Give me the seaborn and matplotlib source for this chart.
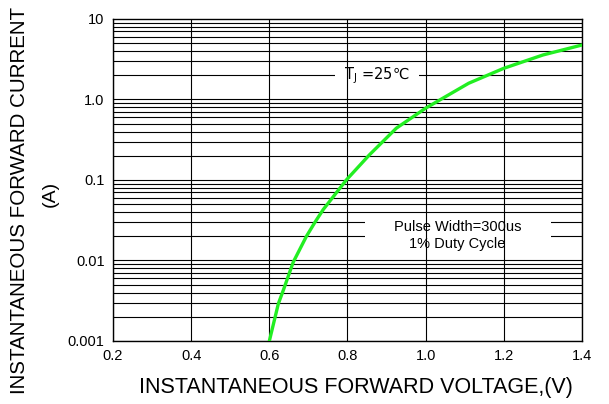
import numpy as np
import seaborn as sns
import matplotlib
matplotlib.use("Agg")
import matplotlib.pyplot as plt
import matplotlib.patches as patches

# forward voltage (V) vs forward current (A)
voltage = [0.6, 0.623, 0.636, 0.661, 0.695, 0.717, 0.738, 0.797, 0.856, 0.925,
           1.0, 1.11, 1.2, 1.3, 1.4]
current = [0.001, 0.0029, 0.0043, 0.0095, 0.020, 0.030, 0.043, 0.1, 0.205, 0.44,
           0.78, 1.59, 2.44, 3.57, 4.75]

x_ticks = [0.2, 0.4, 0.6, 0.8, 1.0, 1.2, 1.4]
x_labels = ["0.2", "0.4", "0.6", "0.8", "1.0", "1.2", "1.4"]
y_ticks = [0.001, 0.01, 0.1, 1, 10]
y_labels = ["0.001", "0.01", "0.1", "1.0", "10"]

sns.set_style("white")
plt.rcParams['font.family'] = ['Liberation Sans', 'Noto Sans CJK SC', 'DejaVu Sans']
plt.rcParams['text.color'] = 'black'
plt.rcParams['xtick.color'] = 'black'
plt.rcParams['ytick.color'] = 'black'

fig = plt.figure(figsize=(6.09, 4.04), dpi=100)
ax = fig.add_axes([0.1856, 0.156, 0.770, 0.797])

ax.set_yscale('log')
ax.set_xlim(0.2, 1.4)
ax.set_ylim(0.001, 10)

# horizontal log grid (under the white label boxes)
for dec in [0.001, 0.01, 0.1, 1]:
    for m in range(1, 10):
        ax.axhline(dec * m, color='black', lw=0.8, zorder=1)
# vertical grid (drawn over the boxes, like the reference)
for xv in x_ticks:
    ax.axvline(xv, color='black', lw=0.8, zorder=4)

sns.lineplot(x=voltage, y=current, ax=ax, color='#22ee22', lw=2.4, zorder=5)

# white boxes that break the horizontal grid behind the notes
ax.add_patch(patches.Rectangle((0.473, 0.773), 0.179, 0.081, transform=ax.transAxes,
                               facecolor='white', edgecolor='none', zorder=2))
ax.add_patch(patches.Rectangle((0.537, 0.267), 0.397, 0.124, transform=ax.transAxes,
                               facecolor='white', edgecolor='none', zorder=2))

ax.text(0.875, 2.0, r"T$_{\rm J}$ =25℃", ha='center', va='center', fontsize=10.5,
        family=['DejaVu Sans'], zorder=3)
ax.text(1.081, 0.0205, "Pulse Width=300us\n1% Duty Cycle", ha='center', va='center',
        fontsize=10.5, linespacing=1.3, zorder=3)

ax.set_xticks(x_ticks)
ax.set_xticklabels(x_labels, fontsize=10.5)
ax.set_yticks(y_ticks)
ax.set_yticklabels(y_labels, fontsize=10.5)
ax.minorticks_off()
ax.tick_params(length=0, pad=6)

for s in ax.spines.values():
    s.set_color('black')
    s.set_linewidth(1.0)

fig.text(0.585, 0.04, "INSTANTANEOUS FORWARD VOLTAGE,(V)", ha='center', va='center', fontsize=15.5)
fig.text(0.032, 0.505, "INSTANTANEOUS FORWARD CURRENT", ha='center', va='center',
         rotation=90, fontsize=14.8)
fig.text(0.083, 0.52, "(A)", ha='center', va='center', rotation=90, fontsize=14)

fig.savefig("out.png", dpi=100)
